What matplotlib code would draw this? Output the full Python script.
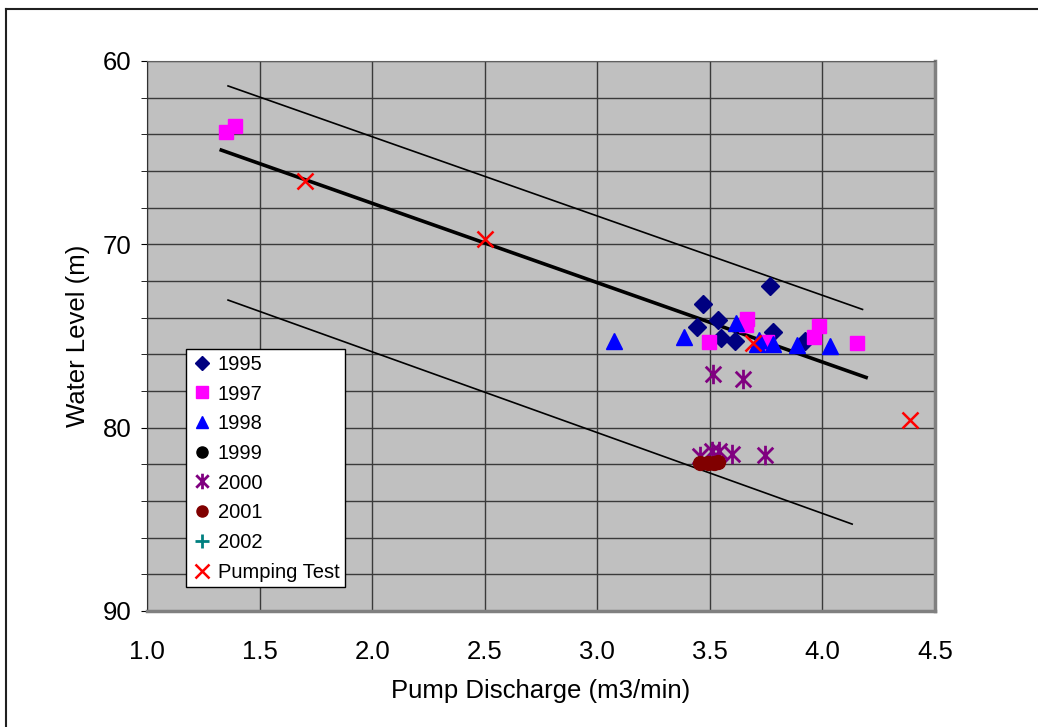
import matplotlib
matplotlib.use("Agg")
import matplotlib.pyplot as plt
from matplotlib.path import Path
from matplotlib.lines import Line2D
import numpy as np

plt.rcParams['font.family'] = ['Liberation Sans', 'DejaVu Sans']

# ---- data ----
x1995 = [3.47, 3.445, 3.535, 3.548, 3.613, 3.765, 3.782, 3.923]
y1995 = [73.25, 74.5, 74.13, 75.09, 75.28, 72.3, 74.77, 75.28]

x1997 = [1.351, 1.391, 3.494, 3.664, 3.66, 3.756, 3.963, 3.985, 4.153]
y1997 = [63.89, 63.53, 75.31, 74.09, 74.4, 75.31, 75.04, 74.46, 75.40]

x1998 = [3.075, 3.386, 3.615, 3.711, 3.72, 3.782, 3.886, 4.034]
y1998 = [75.28, 75.04, 74.3, 75.44, 75.2, 75.44, 75.49, 75.55]

x1999 = []
y1999 = []

x2000 = [3.513, 3.645, 3.457, 3.51, 3.54, 3.597, 3.745]
y2000 = [77.08, 77.37, 81.55, 81.3, 81.3, 81.44, 81.49]

x2001 = [3.457, 3.492, 3.519, 3.537]
y2001 = [81.95, 81.9, 81.9, 81.85]

x2002 = []
y2002 = []

xpump = [1.70, 2.50, 3.69, 4.39]
ypump = [66.55, 69.73, 75.37, 79.6]

# fitted line and envelope lines (end points)
fit_x = [1.33, 4.194]
fit_y = [64.86, 77.26]
upper_x = [1.36, 4.178]
upper_y = [61.36, 73.55]
lower_x = [1.36, 4.132]
lower_y = [73.04, 85.26]

xticks = [1.0, 1.5, 2.0, 2.5, 3.0, 3.5, 4.0, 4.5]
yticks = [60, 70, 80, 90]

# ---- figure ----
W, H = 1038, 727
fig = plt.figure(figsize=(W / 100, H / 100), dpi=100)
ax = fig.add_axes([147 / W, (H - 611) / H, 788 / W, 550 / H])
ax.set_facecolor('#C0C0C0')

ax.set_xlim(1.0, 4.5)
ax.set_ylim(90, 60)
ax.set_xticks(xticks)
ax.set_xticklabels([f"{v:.1f}" for v in xticks])
ax.set_yticks(yticks)
ax.set_yticks(np.arange(60, 91, 2), minor=True)
ax.grid(True, which='both', axis='y', color='#3a3a3a', lw=1)
ax.grid(True, which='major', axis='x', color='#3a3a3a', lw=1)
ax.set_axisbelow(True)

FS = 18.5
ax.tick_params(axis='x', length=0, pad=21, labelsize=FS)
ax.tick_params(axis='y', which='major', length=4, direction='out', pad=7, labelsize=FS)
ax.tick_params(axis='y', which='minor', length=4, direction='out')

for s in ['bottom', 'right']:
    ax.spines[s].set_color('#808080')
    ax.spines[s].set_linewidth(2.5)
ax.spines['left'].set_color('#303030')
ax.spines['top'].set_color('#606060')

ax.set_xlabel('Pump Discharge (m3/min)', fontsize=FS, labelpad=11)
ax.set_ylabel('Water Level (m)', fontsize=FS, labelpad=9)

# lines
ax.plot(fit_x, fit_y, color='black', lw=2.6, zorder=3)
ax.plot(upper_x, upper_y, color='black', lw=1.2, zorder=3)
ax.plot(lower_x, lower_y, color='black', lw=1.2, zorder=3)

# asterisk marker (X + vertical)
star = Path([(0, -1), (0, 1), (-0.8, -0.8), (0.8, 0.8), (-0.8, 0.8), (0.8, -0.8)],
            [Path.MOVETO, Path.LINETO, Path.MOVETO, Path.LINETO, Path.MOVETO, Path.LINETO])

ax.plot(x1995, y1995, ls='none', marker='D', ms=9, color='#000080', label='1995', zorder=4)
ax.plot(x1997, y1997, ls='none', marker='s', ms=10.5, color='#FF00FF', label='1997', zorder=4)
ax.plot(x1998, y1998, ls='none', marker='^', ms=11.5, color='#0000FF', label='1998', zorder=4)
ax.plot(x1999, y1999, ls='none', marker='o', ms=10, color='black', label='1999', zorder=4)
ax.plot(x2000, y2000, ls='none', marker=star, ms=14, mew=2, color='#800080',
        fillstyle='none', label='2000', zorder=4)
ax.plot(x2001, y2001, ls='none', marker='o', ms=10, color='#800000', label='2001', zorder=4)
ax.plot(x2002, y2002, ls='none', marker='+', ms=12, mew=2, color='#008080', label='2002', zorder=4)
ax.plot(xpump, ypump, ls='none', marker='x', ms=12, mew=1.8, color='#FF0000',
        label='Pumping Test', zorder=5)

leg = ax.legend(loc='lower left', bbox_to_anchor=((186 - 147) / 788, (611 - 587) / 550),
                borderaxespad=0, fancybox=False, framealpha=1, edgecolor='black',
                fontsize=14.5, labelspacing=0.53, handlelength=1.0, handletextpad=0.3,
                borderpad=0.27, markerscale=0.8)
leg.get_frame().set_linewidth(1.0)

# figure border
fig.add_artist(Line2D([6 / W, 6 / W], [0, 1 - 9 / H], color='#202020', lw=1.5))
fig.add_artist(Line2D([6 / W, 1], [1 - 9 / H, 1 - 9 / H], color='#202020', lw=1.5))

fig.savefig('out.png', dpi=100)
